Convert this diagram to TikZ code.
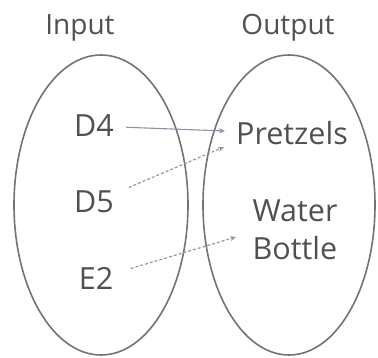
\documentclass[tikz,border=0pt]{standalone}
\usepackage{fontspec}
\setmainfont{Open Sans}
\usetikzlibrary{arrows.meta}
\definecolor{txtgray}{RGB}{80,80,80}
\definecolor{ringgray}{RGB}{115,115,115}
\definecolor{linkgray}{RGB}{135,148,165}

\begin{document}
\begin{tikzpicture}[x=1pt,y=-1pt,
    lbl/.style={text=txtgray,font=\fontsize{30.5}{38}\selectfont,inner sep=0pt,anchor=base},
    head/.style={lbl,font=\fontsize{28}{34}\selectfont},
    ring/.style={draw=ringgray,line width=1.6pt},
    link/.style={draw=linkgray,line width=1.1pt,-{Stealth[length=6pt,width=5pt]}}]
  \useasboundingbox (0,0) rectangle (378,358);

  % Drawing the two sets
  \draw [ring] (101,205) ellipse [x radius=87pt, y radius=150pt];%
  \draw [ring] (289,205) ellipse [x radius=86pt, y radius=150pt];%

  % Headings
  \node [head] (input) at (80,35) {Input};%
  \node [head] (output) at (288,35) {Output};%

  % Marking the inputs
  \node [lbl] (d4) at (94,137) {D4};%
  \node [lbl] (d5) at (94,213) {D5};%
  \node [lbl] (e2) at (96,290) {E2};%

  % Marking the outputs
  \node [lbl] (pretzels) at (292,145) {Pretzels};%
  \node [lbl,align=center] (water) at (295,260) {Water\\Bottle};%

  % Arrow ends
  \coordinate (pz-a) at (225,131);%
  \coordinate (pz-b) at (224,147);%
  \coordinate (wb-a) at (236,237);%

  % Drawing the mapping
  \draw [link,shorten <=12pt] (d4) -- (pz-a);%
  \draw [link,densely dashed,shorten <=16pt] (d5) -- (pz-b);%
  \draw [link,densely dashed,shorten <=18pt] (e2) -- (wb-a);%
\end{tikzpicture}
\end{document}
